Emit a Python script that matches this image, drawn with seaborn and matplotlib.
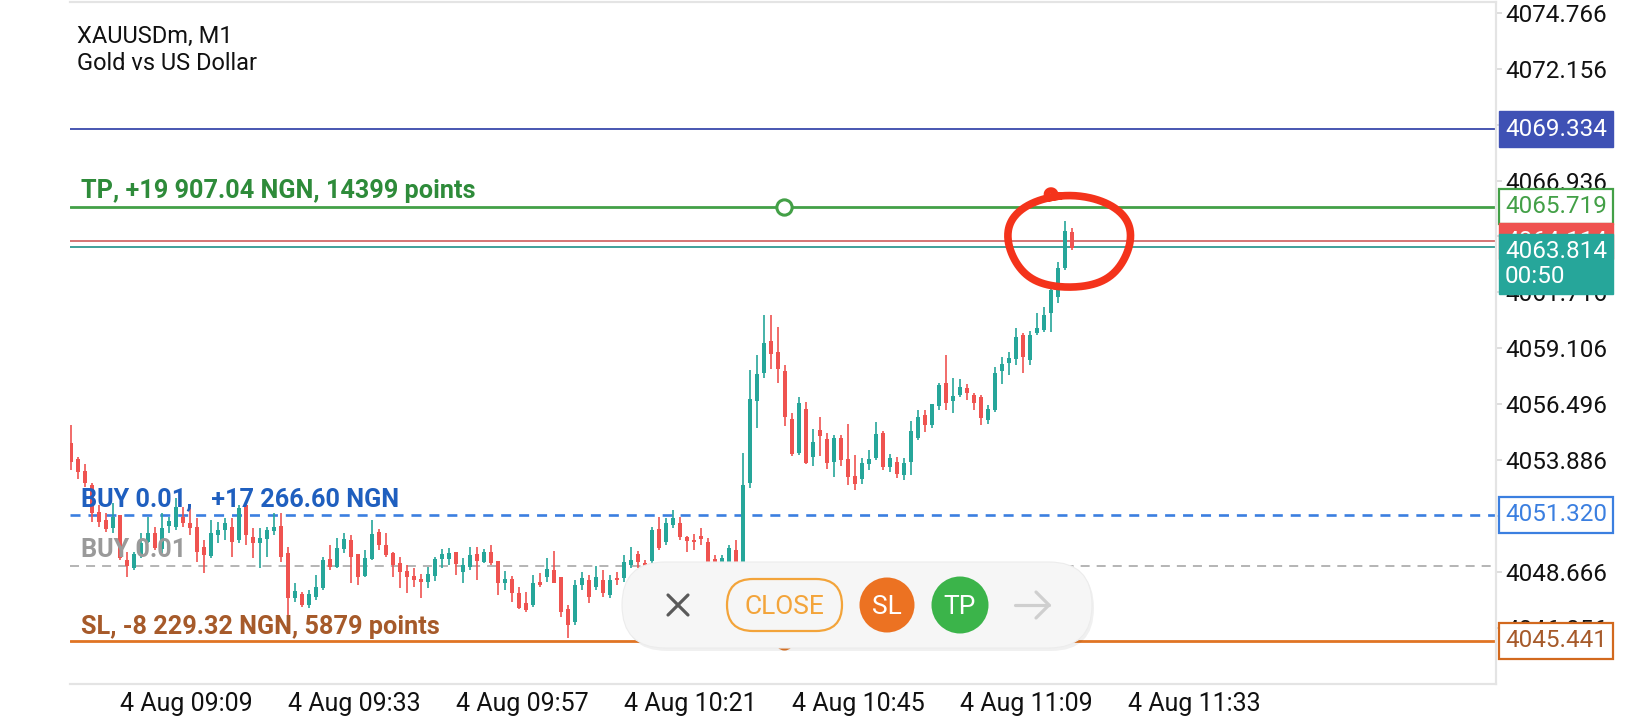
import numpy as np
import pandas as pd
import matplotlib
matplotlib.use("Agg")
import matplotlib.pyplot as plt
import seaborn as sns
from matplotlib.patches import FancyBboxPatch, Ellipse
from matplotlib.lines import Line2D
from matplotlib.transforms import IdentityTransform

# XAUUSDm M1 candles, 4 Aug 09:02 -> 11:25
opens = [
    4054.68, 4053.94, 4053.37, 4052.72, 4051.46, 4051.08, 4050.71, 4051.32, 4049.22, 4048.85,
    4049.45, 4050.06, 4050.48, 4049.73, 4050.81, 4050.76, 4051.22, 4050.94, 4050.76, 4049.82,
    4049.40, 4050.39, 4050.62, 4050.76, 4050.15, 4051.79, 4050.29, 4050.01, 4050.20, 4050.57,
    4050.81, 4049.54, 4047.44, 4047.63, 4047.12, 4047.49, 4047.91, 4049.27, 4048.89, 4049.73,
    4050.15, 4049.49, 4048.47, 4049.27, 4050.53, 4049.92, 4049.54, 4049.08, 4048.70, 4048.47,
    4048.33, 4048.19, 4048.47, 4049.27, 4049.27, 4049.59, 4048.66, 4048.89, 4049.49, 4049.13,
    4049.59, 4049.17, 4048.14, 4048.33, 4047.68, 4047.21, 4047.12, 4048.19, 4048.42, 4048.75,
    4048.42, 4046.93, 4046.32, 4048.05, 4048.28, 4047.96, 4048.28, 4047.59, 4048.38, 4048.38,
    4048.99, 4049.50, 4049.08, 4049.17, 4050.67, 4050.06, 4050.85, 4050.94, 4050.29, 4050.15,
    4050.34, 4050.06, 4049.27, 4048.94, 4048.99, 4049.68, 4048.66, 4052.81, 4056.64, 4057.95,
    4059.44, 4058.93, 4058.05, 4055.80, 4054.21, 4056.27, 4054.03, 4055.29, 4054.87, 4053.80,
    4054.91, 4053.94, 4053.14, 4053.00, 4053.70, 4053.98, 4055.15, 4053.56, 4053.80, 4053.19,
    4053.80, 4054.91, 4055.98, 4055.52, 4056.41, 4057.48, 4056.64, 4056.92, 4057.25, 4056.92,
    4056.83, 4055.75, 4056.22, 4058.04, 4058.42, 4058.60, 4059.72, 4058.56, 4059.82, 4059.96,
    4060.75, 4061.50, 4062.85, 4064.54,
]
highs = [
    4055.52, 4054.03, 4053.70, 4052.81, 4051.79, 4051.41, 4051.88, 4051.32, 4049.59, 4049.59,
    4050.48, 4051.22, 4050.76, 4051.41, 4051.22, 4052.11, 4051.69, 4051.64, 4051.17, 4050.15,
    4051.08, 4050.99, 4051.17, 4051.17, 4051.79, 4051.88, 4050.71, 4050.71, 4050.76, 4051.41,
    4051.41, 4049.82, 4048.14, 4047.72, 4047.82, 4048.52, 4049.36, 4049.92, 4050.25, 4050.48,
    4050.39, 4049.49, 4049.68, 4051.08, 4050.67, 4050.48, 4049.59, 4049.36, 4048.99, 4048.85,
    4048.56, 4048.89, 4049.36, 4049.73, 4049.78, 4049.59, 4049.31, 4049.82, 4049.82, 4049.73,
    4049.92, 4049.17, 4048.70, 4048.47, 4047.96, 4047.73, 4048.52, 4048.61, 4049.31, 4049.63,
    4048.42, 4047.12, 4048.28, 4048.66, 4048.52, 4048.94, 4048.75, 4048.52, 4048.66, 4049.45,
    4049.82, 4049.64, 4049.22, 4050.76, 4051.22, 4051.17, 4051.55, 4051.22, 4050.34, 4050.43,
    4050.71, 4050.25, 4049.45, 4049.45, 4049.92, 4050.15, 4054.21, 4058.09, 4058.79, 4060.66,
    4060.66, 4060.10, 4058.33, 4056.08, 4056.83, 4056.60, 4055.33, 4055.89, 4055.15, 4055.05,
    4055.05, 4055.57, 4054.12, 4053.98, 4054.35, 4055.66, 4055.24, 4054.16, 4054.03, 4053.98,
    4055.71, 4056.22, 4056.22, 4056.50, 4057.48, 4058.79, 4057.71, 4057.67, 4057.43, 4057.01,
    4056.92, 4056.45, 4058.23, 4058.70, 4058.93, 4060.05, 4059.82, 4059.91, 4060.75, 4061.03,
    4062.15, 4063.13, 4065.05, 4064.72,
]
lows = [
    4053.42, 4053.00, 4052.63, 4050.99, 4050.76, 4050.53, 4050.48, 4049.22, 4048.42, 4048.75,
    4049.31, 4050.01, 4049.68, 4049.54, 4050.48, 4050.62, 4050.76, 4050.39, 4049.13, 4048.61,
    4049.31, 4050.01, 4050.15, 4049.35, 4050.01, 4049.92, 4049.31, 4048.85, 4049.36, 4050.39,
    4049.13, 4046.41, 4047.26, 4047.02, 4046.98, 4047.35, 4047.82, 4048.75, 4048.85, 4049.54,
    4048.14, 4048.05, 4048.42, 4049.22, 4049.68, 4049.36, 4048.42, 4047.91, 4047.68, 4047.96,
    4047.44, 4047.91, 4048.24, 4048.85, 4048.99, 4048.52, 4048.14, 4048.75, 4048.28, 4049.08,
    4048.99, 4047.59, 4047.82, 4047.26, 4046.93, 4046.79, 4047.02, 4047.96, 4048.19, 4048.14,
    4046.55, 4045.57, 4046.18, 4047.82, 4047.21, 4047.82, 4047.49, 4047.44, 4048.05, 4048.19,
    4048.85, 4048.85, 4048.75, 4049.08, 4049.68, 4049.92, 4050.71, 4050.15, 4049.59, 4049.68,
    4049.92, 4048.85, 4048.75, 4048.75, 4048.85, 4048.66, 4048.52, 4052.58, 4055.38, 4057.71,
    4058.14, 4057.48, 4055.47, 4054.07, 4054.12, 4053.70, 4053.61, 4054.07, 4053.47, 4053.10,
    4053.61, 4052.72, 4052.49, 4052.77, 4053.42, 4053.89, 4053.42, 4053.33, 4053.05, 4052.95,
    4053.19, 4054.82, 4055.19, 4055.38, 4056.22, 4056.22, 4056.08, 4056.83, 4056.69, 4056.22,
    4055.52, 4055.57, 4056.13, 4057.43, 4057.85, 4058.33, 4057.95, 4058.33, 4059.72, 4059.87,
    4059.87, 4061.22, 4062.76, 4063.69,
]
closes = [
    4053.80, 4053.33, 4052.81, 4051.41, 4050.99, 4050.67, 4051.22, 4049.31, 4048.94, 4049.50,
    4050.01, 4050.48, 4049.78, 4050.71, 4051.04, 4051.69, 4050.94, 4050.71, 4049.59, 4049.45,
    4050.48, 4050.62, 4050.94, 4050.06, 4051.64, 4050.39, 4050.01, 4050.25, 4050.62, 4050.76,
    4049.36, 4047.44, 4047.77, 4047.12, 4047.63, 4047.96, 4049.22, 4048.89, 4049.78, 4050.20,
    4049.36, 4048.42, 4049.31, 4050.43, 4049.92, 4049.45, 4048.99, 4048.66, 4048.42, 4048.28,
    4048.19, 4048.56, 4049.27, 4049.50, 4049.54, 4049.03, 4048.99, 4049.45, 4049.17, 4049.59,
    4049.08, 4048.14, 4048.33, 4047.68, 4046.98, 4046.88, 4048.14, 4048.05, 4048.80, 4048.14,
    4046.79, 4046.18, 4048.05, 4048.38, 4047.49, 4048.42, 4047.68, 4048.28, 4048.28, 4049.13,
    4049.22, 4049.13, 4048.94, 4050.62, 4049.78, 4050.94, 4051.17, 4050.29, 4050.11, 4050.06,
    4050.20, 4049.13, 4049.03, 4049.31, 4049.78, 4048.85, 4052.72, 4056.73, 4057.91, 4059.35,
    4058.84, 4058.14, 4055.89, 4054.16, 4056.55, 4053.75, 4054.73, 4055.01, 4053.75, 4054.91,
    4053.89, 4053.10, 4052.77, 4053.75, 4053.94, 4055.10, 4053.56, 4053.98, 4053.24, 4053.75,
    4055.24, 4055.89, 4055.52, 4056.50, 4057.39, 4056.55, 4056.87, 4057.29, 4057.01, 4056.55,
    4055.85, 4056.27, 4057.95, 4058.37, 4058.65, 4059.63, 4058.70, 4059.72, 4060.05, 4060.66,
    4061.83, 4062.85, 4064.58, 4063.81,
]
start_time = "2025-08-04 09:02"
tick_times = ["09:09", "09:33", "09:57", "10:21", "10:45", "11:09", "11:33"]
price_ticks = [4074.766, 4072.156, 4069.546, 4066.936, 4064.326, 4061.716,
               4059.106, 4056.496, 4053.886, 4051.276, 4048.666, 4046.056]
# ticks fully covered by the price boxes in the screenshot
covered_ticks = [4069.546, 4064.326, 4051.276]

# order / price levels
level_blue = 4069.334
tp_level = 4065.719
ask_price = 4064.114
bid_price = 4063.814
buy_level = 4051.320
buy2_level = 4048.94
sl_level = 4045.441
marker_x = 101.9

UP, DOWN = "#26a69a", "#ef5350"
FS = 17.5

sns.set_theme(style="white")
plt.rcParams["font.family"] = ["Roboto", "DejaVu Sans"]

W, H = 1640, 720
fig = plt.figure(figsize=(W / 100, H / 100), dpi=100)
ax = fig.add_axes([70 / W, 36 / H, 1426 / W, 682 / H])

df = pd.DataFrame({
    "time": pd.date_range(start_time, periods=len(opens), freq="min"),
    "open": opens, "high": highs, "low": lows, "close": closes,
})
df["x"] = np.arange(len(df))
col = np.where(df["close"] >= df["open"], UP, DOWN)

ax.vlines(df["x"], df["low"], df["high"], colors=col, lw=1.2, zorder=3)
body_lo = df[["open", "close"]].min(axis=1)
body_h = (df["close"] - df["open"]).abs().clip(lower=0.05)
ax.bar(df["x"], body_h, bottom=body_lo, width=0.62, color=col, linewidth=0, zorder=3)

# horizontal levels
ax.axhline(level_blue, color="#3949ab", lw=1.3, zorder=2)
ax.axhline(tp_level, color="#43a047", lw=2.0, zorder=2)
ax.axhline(ask_price, color="#d06a6a", lw=1.3, zorder=2)
ax.axhline(bid_price, color="#2e9a92", lw=1.3, zorder=2)
ax.axhline(buy_level, color="#3b7fe0", lw=1.9, ls=(0, (3.8, 3.0)), zorder=2)
ax.axhline(buy2_level, color="#a0a0a0", lw=1.1, ls=(0, (5.9, 4.6)), zorder=2)
ax.axhline(sl_level, color="#e07424", lw=2.0, zorder=2)

ax.plot([marker_x], [tp_level], "o", ms=11, mfc="white", mec="#43a047", mew=2.2, zorder=4)
ax.plot([marker_x], [sl_level], "o", ms=12, mfc="#e07424", mec="#e07424", zorder=4)

# line captions
lab = dict(xycoords="data", textcoords="offset points", ha="left", va="baseline",
           fontsize=18.2, fontweight="bold", zorder=5)
ax.annotate("TP, +19 907.04 NGN, 14399 points", (1.4, tp_level), (0, 6.5), color="#2e8b3a", **lab)
ax.annotate("BUY 0.01,   +17 266.60 NGN", (1.4, buy_level), (0, 6), color="#1f5fbf", **lab)
ax.annotate("BUY 0.01", (1.4, buy2_level), (0, 6.5), color="#9a9a9a", **lab)
ax.annotate("SL, -8 229.32 NGN, 5879 points", (1.4, sl_level), (0, 4.6), color="#a65a2a", **lab)

# axes, ticks
ax.set_xlim(-0.14, 203.57)
ax.set_ylim(4043.42, 4075.28)
t0 = pd.Timestamp(start_time)
tick_ts = [pd.Timestamp(f"{t0:%Y-%m-%d} {t}") for t in tick_times]
ax.set_xticks([(t - t0) / pd.Timedelta(minutes=1) for t in tick_ts],
              [f"{t.day} {t:%b %H:%M}" for t in tick_ts])
for t in ax.get_xticklabels():
    t.set_ha("left")
ax.yaxis.tick_right()
ax.set_yticks(price_ticks, ["" if v in covered_ticks else f"{v:.3f}" for v in price_ticks])
ax.tick_params(axis="both", labelcolor="#111111", color="#d8d8d8",
               length=4, width=1.2, direction="out")
ax.tick_params(axis="x", pad=1.5, labelsize=18)
ax.tick_params(axis="y", pad=3, labelsize=FS)
for side in ["top", "right", "bottom"]:
    ax.spines[side].set_color("#e4e4e4")
    ax.spines[side].set_linewidth(1.6)
ax.spines["left"].set_visible(False)

# price boxes on the right scale
ytr = ax.get_yaxis_transform()
box = dict(fontsize=FS, ha="left", va="center", transform=ytr, clip_on=False, zorder=8)
ax.text(1.0063, level_blue, f"{level_blue:.3f}", color="white",
        bbox=dict(boxstyle="square,pad=0.26", fc="#3f51b5", ec="#3f51b5"), **box)
ax.text(1.0063, tp_level, f"{tp_level:.3f}", color="#43a047",
        bbox=dict(boxstyle="square,pad=0.26", fc="white", ec="#43a047", lw=1.6), **box)
ax.text(1.0063, ask_price, f"{ask_price:.3f}", color="white",
        bbox=dict(boxstyle="square,pad=0.26", fc="#ef5350", ec="#ef5350"), **box)
ax.text(1.0063, bid_price + 0.35, f"{bid_price:.3f}\n00:50", color="white", fontsize=FS,
        ha="left", va="top", linespacing=1.1, transform=ytr, clip_on=False, zorder=9,
        bbox=dict(boxstyle="square,pad=0.26", fc="#26a69a", ec="#26a69a"))
ax.text(1.0063, buy_level, f"{buy_level:.3f}", color="#3b7fe0",
        bbox=dict(boxstyle="square,pad=0.26", fc="white", ec="#3b7fe0", lw=1.6), **box)
ax.text(1.0063, sl_level, f"{sl_level:.3f}", color="#a65a2a",
        bbox=dict(boxstyle="square,pad=0.26", fc="white", ec="#d2691e", lw=1.6), **box)

# hand-drawn red loop around the last candles
loop_cx, loop_cy, loop_rx, loop_ry = 142.6, 4064.10, 8.7, 2.25
t = np.linspace(0.55 * np.pi, 2.62 * np.pi, 300)
lx = loop_cx + loop_rx * np.cos(t) * (1 + 0.04 * np.sin(3 * t))
ly = loop_cy + loop_ry * np.sin(t) * (1 + 0.05 * np.cos(2 * t))
ax.plot(lx, ly, color="#f4331b", lw=5.5, solid_capstyle="round", zorder=7)
k = np.linspace(0, 2 * np.pi, 60)
ax.plot(140.0 + 0.6 * np.cos(k), 4066.30 + 0.18 * np.sin(k), color="#f4331b", lw=4.5, zorder=7)

# header
fig.text(77 / W, 1 - 43 / H, "XAUUSDm, M1", fontsize=17, color="#111111", va="baseline")
fig.text(77 / W, 1 - 70 / H, "Gold vs US Dollar", fontsize=17, color="#111111", va="baseline")

# floating trade toolbar (pixel coordinates)
idt = IdentityTransform()
def fy(y):
    return H - y

fig.add_artist(FancyBboxPatch((624, fy(651)), 470, 86, boxstyle="round,pad=0,rounding_size=43",
                              transform=idt, fc=(0, 0, 0, 0.06), ec="none", zorder=5))
fig.add_artist(FancyBboxPatch((622, fy(648)), 470, 86, boxstyle="round,pad=0,rounding_size=43",
                              transform=idt, fc="#f6f6f6", ec="#ececec", lw=0.8, zorder=6))
fig.add_artist(Line2D([668, 688], [fy(595), fy(615)], transform=idt, color="#5a5a5a", lw=2.3, zorder=7))
fig.add_artist(Line2D([668, 688], [fy(615), fy(595)], transform=idt, color="#5a5a5a", lw=2.3, zorder=7))
fig.add_artist(FancyBboxPatch((727, fy(631)), 115, 52, boxstyle="round,pad=0,rounding_size=26",
                              transform=idt, fc="none", ec="#f3a43a", lw=1.6, zorder=7))
fig.text(784.5, fy(605), "CLOSE", transform=idt, ha="center", va="center_baseline",
         fontsize=19, color="#f3a43a", zorder=8)
fig.add_artist(Ellipse((887, fy(605)), 55, 55, transform=idt, fc="#ec7222", ec="none", zorder=7))
fig.text(887, fy(605), "SL", transform=idt, ha="center", va="center_baseline",
         fontsize=19, color="white", zorder=8)
fig.add_artist(Ellipse((960, fy(605)), 57, 57, transform=idt, fc="#3bb44a", ec="none", zorder=7))
fig.text(960, fy(605), "TP", transform=idt, ha="center", va="center_baseline",
         fontsize=19, color="white", zorder=8)
fig.add_artist(Line2D([1015, 1049], [fy(605), fy(605)], transform=idt, color="#cfcfcf", lw=2.3, zorder=7))
fig.add_artist(Line2D([1036, 1049, 1036], [fy(592), fy(605), fy(618)], transform=idt,
                      color="#cfcfcf", lw=2.3, zorder=7))

fig.savefig("out.png", dpi=100, facecolor="white")
